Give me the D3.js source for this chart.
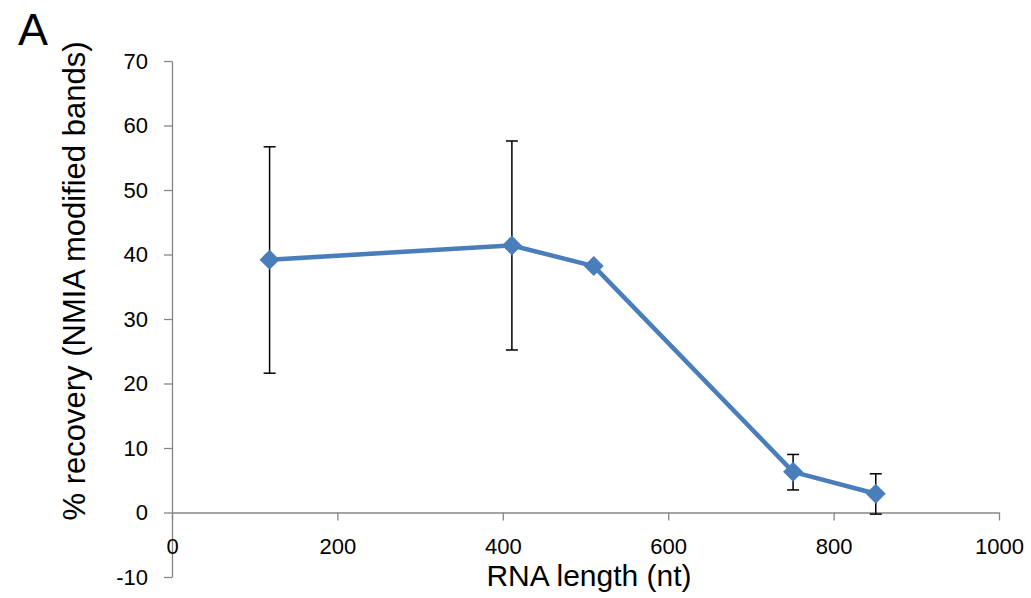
<!DOCTYPE html>
<html><head><meta charset="utf-8">
<script src="https://cdn.jsdelivr.net/npm/d3@7"></script>
<style>body{margin:0;background:#fff}svg{display:block}</style>
</head><body>
<svg id="c" width="1031" height="598"></svg>
<script>
const lengths = [118, 411, 510, 751, 851];
const recovery = [39.2, 41.4, 38.2, 6.3, 2.9];
const errHigh = [56.7, 57.6, 38.2, 9.0, 6.0];
const errLow = [21.6, 25.2, 38.2, 3.5, -0.25];
const showErr = [true, true, false, true, true];
const xTicks = [0, 200, 400, 600, 800, 1000];
const yTicks = [-10, 0, 10, 20, 30, 40, 50, 60, 70];

const svg = d3.select("#c");
const font = "'Liberation Sans', Arial, sans-serif";
const x = d3.scaleLinear().domain([0, 1000]).range([172, 999]);
const y = d3.scaleLinear().domain([-10, 70]).range([577, 61]);
const axisColor = "#868686";
const fmt = d => String(d);

// y axis
const ya = svg.append("g").attr("transform", `translate(${x(0)},0)`)
  .call(d3.axisLeft(y).tickValues(yTicks).tickFormat(fmt).tickSize(8).tickSizeOuter(0));
ya.select(".domain").attr("stroke", axisColor).attr("stroke-width", 1.3);
ya.selectAll(".tick line").attr("stroke", axisColor).attr("stroke-width", 1.3);
ya.selectAll(".tick text").attr("font-family", font).attr("font-size", 22).attr("fill", "#000").attr("x", -24);

// x axis at y=0
const xa = svg.append("g").attr("transform", `translate(0,${y(0)})`)
  .call(d3.axisBottom(x).tickValues(xTicks).tickFormat(fmt).tickSize(8).tickSizeOuter(0));
xa.select(".domain").attr("stroke", axisColor).attr("stroke-width", 1.3);
xa.selectAll(".tick line").attr("stroke", axisColor).attr("stroke-width", 1.3);
xa.selectAll(".tick text").attr("font-family", font).attr("font-size", 22).attr("fill", "#000").attr("y", 26);

const data = lengths.map((d, i) => ({x: d, y: recovery[i], hi: errHigh[i], lo: errLow[i], e: showErr[i]}));

// error bars
const eb = svg.append("g").selectAll("g").data(data.filter(d => d.e)).join("g");
eb.append("line").attr("x1", d => x(d.x)).attr("x2", d => x(d.x))
  .attr("y1", d => y(d.hi)).attr("y2", d => y(d.lo)).attr("stroke", "#000").attr("stroke-width", 1.5);
eb.append("line").attr("x1", d => x(d.x) - 6).attr("x2", d => x(d.x) + 6)
  .attr("y1", d => y(d.hi)).attr("y2", d => y(d.hi)).attr("stroke", "#000").attr("stroke-width", 1.5);
eb.append("line").attr("x1", d => x(d.x) - 6).attr("x2", d => x(d.x) + 6)
  .attr("y1", d => y(d.lo)).attr("y2", d => y(d.lo)).attr("stroke", "#000").attr("stroke-width", 1.5);

// line
svg.append("path").datum(data)
  .attr("d", d3.line().x(d => x(d.x)).y(d => y(d.y)))
  .attr("fill", "none").attr("stroke", "#4a7ebb").attr("stroke-width", 4.5).attr("stroke-linejoin", "round");

// markers
svg.append("g").selectAll("path").data(data).join("path")
  .attr("transform", d => `translate(${x(d.x)},${y(d.y)})`)
  .attr("d", "M0,-10L10,0L0,10L-10,0Z")
  .attr("fill", "#4a7ebb");

// titles
svg.append("text").attr("x", 589).attr("y", 586).attr("text-anchor", "middle")
  .attr("font-family", font).attr("font-size", 30).text("RNA length (nt)");
svg.append("text").attr("transform", "translate(85,281) rotate(-90)").attr("text-anchor", "middle")
  .attr("font-family", font).attr("font-size", 31).text("% recovery (NMIA modified bands)");
svg.append("text").attr("x", 18).attr("y", 45).attr("font-family", font).attr("font-size", 45).text("A");
</script>
</body></html>
